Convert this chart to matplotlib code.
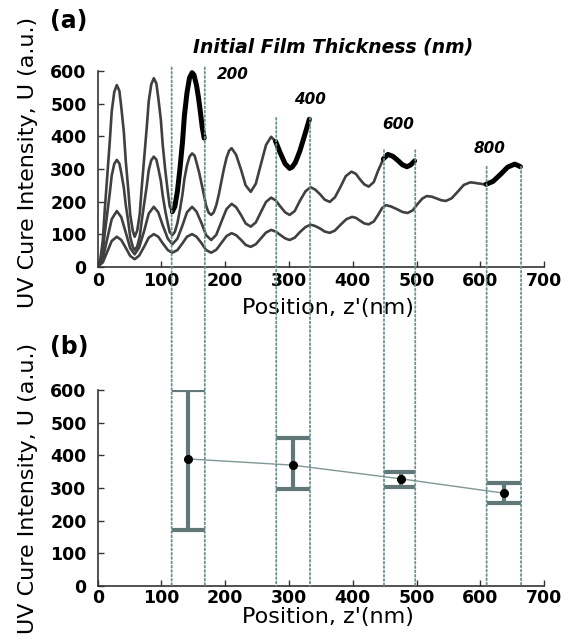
import numpy as np
import matplotlib.pyplot as plt
from matplotlib.patches import ConnectionPatch

# curvas de intensidad (a), una por espesor inicial
x200 = [0, 4, 8, 11, 15, 19, 22, 26, 30, 34, 37, 41, 44, 48, 51, 55, 58,
        62, 66, 69, 73, 77, 80, 84, 88, 92, 95, 99, 102, 106, 110, 113, 117,
        121, 125, 129, 133, 136, 140, 144, 148, 151, 155, 158, 161, 164, 167]
y200 = [0, 21, 81, 172, 279, 386, 477, 537, 558, 540, 490, 414, 325, 236, 160, 110, 92,
        111, 163, 242, 336, 429, 508, 560, 579, 563, 519, 452, 374, 296, 229, 185, 169,
        185, 231, 301, 383, 464, 534, 580, 596, 589, 557, 520, 476, 428, 395]

x400 = [0, 4, 8, 11, 15, 19, 22, 26, 30, 34, 37, 41, 44, 48, 51, 55, 58,
        62, 66, 69, 73, 77, 80, 84, 88, 92, 95, 99, 102, 106, 110, 113, 117,
        121, 125, 129, 133, 136, 140, 144, 148, 152, 155, 159, 163, 167, 170, 174, 178,
        182, 186, 190, 194, 198, 202, 206, 210, 217, 225, 232, 240, 248, 256, 264, 272,
        279, 286, 294, 301, 305, 310, 317, 324, 332]
y400 = [0, 12, 48, 101, 164, 227, 280, 316, 328, 317, 288, 242, 190, 137, 91, 61, 51,
        62, 93, 140, 195, 249, 296, 327, 338, 329, 303, 264, 218, 171, 132, 106, 97,
        107, 134, 175, 223, 270, 311, 338, 348, 341, 320, 290, 254, 217, 187, 166, 159,
        167, 189, 222, 262, 301, 334, 356, 364, 344, 297, 250, 230, 255, 315, 374, 399,
        385, 351, 316, 302, 306, 320, 355, 400, 453]

x600 = [0, 8, 15, 22, 30, 37, 44, 51, 58, 65, 73, 80, 88, 95, 102, 110, 117,
        125, 133, 140, 148, 155, 163, 170, 178, 186, 194, 202, 210, 217, 225, 232, 240,
        248, 256, 264, 272, 279, 286, 294, 301, 309, 317, 326, 334, 341, 349, 356, 364,
        372, 381, 389, 398, 405, 411, 418, 425, 433, 440, 448, 455, 463, 471, 478, 485,
        491, 497]
y600 = [0, 25, 86, 146, 171, 152, 105, 57, 38, 59, 111, 163, 184, 167, 127, 86, 69,
        86, 127, 167, 184, 169, 133, 97, 82, 98, 138, 177, 193, 183, 158, 133, 123,
        136, 168, 199, 212, 204, 186, 167, 159, 171, 202, 232, 244, 237, 222, 206, 199,
        213, 246, 278, 292, 285, 269, 253, 246, 260, 296, 331, 345, 339, 326, 313, 307,
        313, 325]

x800 = [0, 8, 15, 22, 30, 37, 44, 51, 58, 65, 73, 80, 88, 95, 102, 110, 117,
        125, 133, 140, 148, 155, 163, 170, 178, 186, 194, 202, 210, 217, 225, 232, 240,
        248, 256, 264, 272, 279, 286, 294, 301, 309, 317, 326, 334, 341, 349, 356, 364,
        372, 381, 390, 399, 405, 411, 418, 425, 433, 440, 446, 452, 460, 469, 478, 486,
        494, 501, 509, 516, 524, 531, 539, 546, 555, 565, 574, 584, 590, 596, 603, 609,
        620, 632, 643, 654, 659, 663]
y800 = [0, 13, 46, 79, 92, 82, 58, 33, 23, 34, 62, 89, 100, 92, 72, 51, 43,
        51, 72, 92, 100, 92, 72, 51, 43, 52, 73, 94, 103, 97, 82, 67, 61,
        69, 87, 105, 113, 108, 98, 87, 82, 89, 106, 122, 129, 125, 117, 108, 104,
        111, 129, 146, 153, 150, 142, 133, 130, 139, 160, 180, 189, 185, 177, 168, 165,
        173, 191, 209, 217, 215, 210, 204, 202, 210, 231, 251, 259, 258, 256, 254, 253,
        262, 284, 306, 315, 311, 307]

films = ['200', '400', '600', '800']
film_left = [116, 280, 449, 610]     # lineas punteadas (inicio de la pelicula)
film_right = [168, 333, 498, 664]    # lineas punteadas (fin)
dot_top = [612, 457, 358, 307]

# panel (b): promedio y rango de intensidad
pos_b = [142, 306, 476, 638]
mean_b = [389, 370, 328, 284]
hi_b = [600, 454, 350, 316]
lo_b = [171, 297, 304, 255]

fig = plt.figure(figsize=(5.72, 6.42), dpi=100)
ax1 = fig.add_axes([0.1708, 0.5846, 0.7803, 0.3245])
ax2 = fig.add_axes([0.1708, 0.0872, 0.7803, 0.3053])

grey = '#404040'
teal = '#627878'

curves = [(x200, y200), (x400, y400), (x600, y600), (x800, y800)]
for (xs, ys), x0 in zip(curves, film_left):
    xs = np.array(xs)
    ys = np.array(ys)
    ax1.plot(xs, ys, color=grey, lw=1.9, solid_joinstyle='round')
    m = xs >= x0 - 1
    ax1.plot(xs[m], ys[m], color='black', lw=3.6, solid_capstyle='round',
             solid_joinstyle='round')

# barras de error con topes entre las lineas punteadas
ax2.plot(pos_b, mean_b, color='#7f9696', lw=1, zorder=2)
ax2.vlines(pos_b, lo_b, hi_b, color=teal, lw=3, zorder=3)
ax2.hlines(hi_b, film_left, film_right, color=teal, lw=3, zorder=3)
ax2.hlines(lo_b, film_left, film_right, color=teal, lw=3, zorder=3)
ax2.plot(pos_b, mean_b, 'o', color='black', ms=5.5, zorder=5)

for ax, ytop in [(ax1, 640), (ax2, 600)]:
    ax.set_xlim(0, 700)
    ax.set_ylim(0, ytop)
    ax.spines['top'].set_visible(False)
    ax.spines['right'].set_visible(False)
    for s in ['left', 'bottom']:
        ax.spines[s].set_color('#333333')
        ax.spines[s].set_linewidth(1.2)
    ax.spines['left'].set_bounds(0, 600)
    ax.set_xticks(range(0, 701, 100))
    ax.set_yticks(range(0, 601, 100))
    ax.tick_params(direction='in', length=4, width=1, labelsize=12.5, color='#333333')
    ax.tick_params(axis='y', pad=8)
    for lab in ax.get_xticklabels() + ax.get_yticklabels():
        lab.set_fontweight('bold')
    ax.set_ylabel('UV Cure Intensity, U (a.u.)', fontsize=16)
    ax.yaxis.set_label_coords(-0.134, 0.5)

ax1.tick_params(axis='x', pad=4)
ax2.tick_params(axis='x', pad=2)
ax1.set_xlabel("Position, z'(nm)", fontsize=16)
ax1.xaxis.set_label_coords(0.515, -0.15)
ax2.set_xlabel("Position, z'(nm)", fontsize=16)
ax2.xaxis.set_label_coords(0.515, -0.108)

# lineas punteadas que cruzan ambos paneles
for xl, xr, yt in zip(film_left, film_right, dot_top):
    for xv in (xl, xr):
        con = ConnectionPatch(xyA=(xv, yt), coordsA='data', axesA=ax1,
                              xyB=(xv, 0), coordsB='data', axesB=ax2,
                              color='#6a9090', lw=1.3, linestyle=(0, (1, 1.4)))
        fig.add_artist(con)

# etiquetas de espesor
ax1.text(187, 589, '200', fontsize=11, fontweight='bold', style='italic', ha='left', va='center')
ax1.text(333, 515, '400', fontsize=11, fontweight='bold', style='italic', ha='center', va='center')
ax1.text(472, 438, '600', fontsize=11, fontweight='bold', style='italic', ha='center', va='center')
ax1.text(614, 362, '800', fontsize=11, fontweight='bold', style='italic', ha='center', va='center')
ax1.text(369, 675, 'Initial Film Thickness (nm)', fontsize=13.5, fontweight='bold',
         style='italic', ha='center', va='center')

fig.text(50 / 572, 1 - 21 / 642, '(a)', fontsize=17, fontweight='bold', ha='left', va='center')
fig.text(50 / 572, 1 - 347 / 642, '(b)', fontsize=17, fontweight='bold', ha='left', va='center')

fig.savefig('out.png', dpi=100)
